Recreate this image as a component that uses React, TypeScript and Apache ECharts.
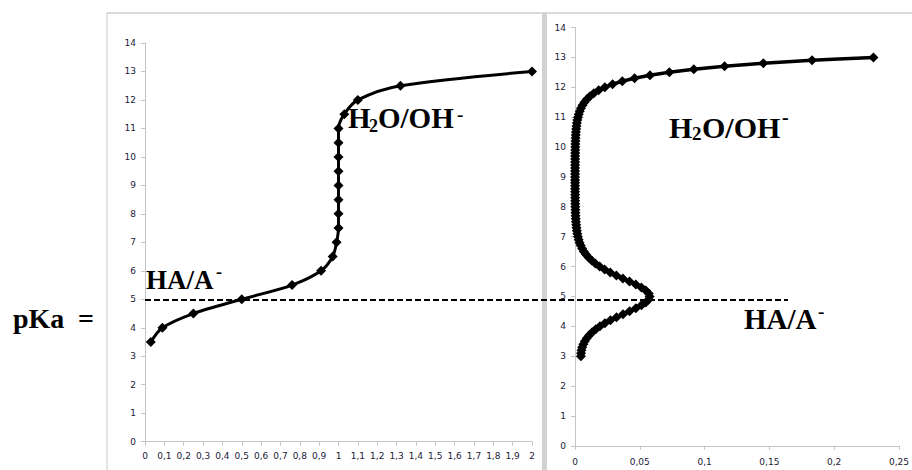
import React, { useEffect, useRef } from "react";
import * as echarts from "echarts";

// Left chart: titration curve (fraction titrated vs pH)
const leftX = [0.03, 0.09, 0.25, 0.5, 0.76, 0.91, 0.97, 0.99, 1.0, 1.0, 1.0, 1.0, 1.0, 1.0, 1.0, 1.0, 1.03, 1.1, 1.32, 2.0];
const leftPh = [3.5, 4, 4.5, 5, 5.5, 6, 6.5, 7, 7.5, 8, 8.5, 9, 9.5, 10, 10.5, 11, 11.5, 12, 12.5, 13];

// Right chart: buffer capacity vs pH
const rightPh = [
  3.0, 3.1, 3.2, 3.3, 3.4, 3.5, 3.6, 3.7, 3.8, 3.9,
  4.0, 4.1, 4.2, 4.3, 4.4, 4.5, 4.6, 4.7, 4.8, 4.9,
  5.0, 5.1, 5.2, 5.3, 5.4, 5.5, 5.6, 5.7, 5.8, 5.9,
  6.0, 6.1, 6.2, 6.3, 6.4, 6.5, 6.6, 6.7, 6.8, 6.9,
  7.0, 7.1, 7.2, 7.3, 7.4, 7.5, 7.6, 7.7, 7.8, 7.9,
  8.0, 8.1, 8.2, 8.3, 8.4, 8.5, 8.6, 8.7, 8.8, 8.9,
  9.0, 9.1, 9.2, 9.3, 9.4, 9.5, 9.6, 9.7, 9.8, 9.9,
  10.0, 10.1, 10.2, 10.3, 10.4, 10.5, 10.6, 10.7, 10.8, 10.9,
  11.0, 11.1, 11.2, 11.3, 11.4, 11.5, 11.6, 11.7, 11.8, 11.9,
  12.0, 12.1, 12.2, 12.3, 12.4, 12.5, 12.6, 12.7, 12.8, 12.9,
  13.0,
];
const rightBeta = [
  0.00456, 0.00466, 0.00499, 0.00557, 0.00642, 0.00757, 0.00906, 0.01093, 0.01322, 0.01599,
  0.01926, 0.02305, 0.02734, 0.03205, 0.03705, 0.04211, 0.04696, 0.05127, 0.05466, 0.05685,
  0.0576, 0.05684, 0.05464, 0.05123, 0.04691, 0.04204, 0.03696, 0.03194, 0.0272, 0.02287,
  0.01903, 0.0157, 0.01286, 0.01047, 0.00848, 0.00684, 0.00551, 0.00442, 0.00354, 0.00283,
  0.00226, 0.0018, 0.00144, 0.00114, 0.00091, 0.00072, 0.00058, 0.00046, 0.00036, 0.00029,
  0.00023, 0.00019, 0.00015, 0.00012, 0.0001, 0.00008, 0.00007, 0.00006, 0.00005, 0.00005,
  0.00005, 0.00005, 0.00005, 0.00006, 0.00007, 0.00008, 0.0001, 0.00012, 0.00015, 0.00019,
  0.00023, 0.00029, 0.00037, 0.00046, 0.00058, 0.00073, 0.00092, 0.00115, 0.00145, 0.00183,
  0.0023, 0.0029, 0.00365, 0.0046, 0.00579, 0.00728, 0.00917, 0.01154, 0.01453, 0.01829,
  0.02303, 0.02899, 0.0365, 0.04595, 0.05785, 0.07283, 0.09168, 0.11542, 0.14531, 0.18293,
  0.2303,
];

const pKaValue = 5;

const AXIS_GRAY = "#c4c4c4";
const LABEL_COLOR = "#1a1a36";
const SERIF = "'Liberation Serif', 'Times New Roman', serif";

const fmt = (decimals: number) => (v: number) =>
  String(Math.round(v * Math.pow(10, decimals)) / Math.pow(10, decimals)).replace(".", ",");

const axisCommon = {
  axisLine: { show: true, onZero: false, lineStyle: { color: AXIS_GRAY, width: 1 } },
  axisTick: { show: true, inside: false, length: 4, lineStyle: { color: AXIS_GRAY, width: 1 } },
  splitLine: { show: false },
};

const labelStyle = {
  color: LABEL_COLOR,
  fontFamily: "'DejaVu Sans', Verdana, sans-serif",
  fontSize: 9,
};

export default function App() {
  const ref = useRef<HTMLDivElement>(null);

  useEffect(() => {
    if (!ref.current) return;
    const chart = echarts.init(ref.current, undefined, { renderer: "svg" });

    const leftData = leftX.map((x, i) => [x, leftPh[i]]);
    const rightData = rightBeta.map((b, i) => [b, rightPh[i]]);

    // y is the vertical middle of the text's em box
    const boldText = (text: string, x: number, y: number, size: number) => ({
      type: "text",
      x,
      y,
      silent: true,
      style: {
        text,
        fill: "#000",
        font: `bold ${size}px ${SERIF}`,
        verticalAlign: "middle",
        align: "left",
      },
    });

    const option = {
      animation: false,
      backgroundColor: "#ffffff",
      grid: [
        { left: 145, top: 43, width: 387, height: 398.7 },
        { left: 575, top: 27.5, width: 325, height: 418.3 },
      ],
      xAxis: [
        {
          type: "value",
          gridIndex: 0,
          min: 0,
          max: 2,
          interval: 0.1,
          ...axisCommon,
          axisLabel: { ...labelStyle, margin: 10, interval: 0, hideOverlap: false, formatter: fmt(1) },
        },
        {
          type: "value",
          gridIndex: 1,
          min: 0,
          max: 0.25,
          interval: 0.05,
          ...axisCommon,
          axisLabel: { ...labelStyle, margin: 12, formatter: fmt(2) },
        },
      ],
      yAxis: [
        {
          type: "value",
          gridIndex: 0,
          min: 0,
          max: 14,
          interval: 1,
          ...axisCommon,
          axisLabel: { ...labelStyle, margin: 9 },
        },
        {
          type: "value",
          gridIndex: 1,
          min: 0,
          max: 14,
          interval: 1,
          ...axisCommon,
          axisLabel: { ...labelStyle, margin: 9 },
        },
      ],
      series: [
        {
          type: "line",
          xAxisIndex: 0,
          yAxisIndex: 0,
          data: leftData,
          smooth: 0.3,
          symbol: "diamond",
          symbolSize: 10,
          lineStyle: { color: "#000", width: 3 },
          itemStyle: { color: "#000" },
          markLine: {
            silent: true,
            symbol: "none",
            label: { show: false },
            lineStyle: { color: "#000", width: 2, type: [6, 3] },
            data: [
              [
                { coord: [0, pKaValue] },
                { x: 788, yAxis: pKaValue },
              ],
            ],
          },
        },
        {
          type: "line",
          xAxisIndex: 1,
          yAxisIndex: 1,
          data: rightData,
          smooth: 0.3,
          symbol: "diamond",
          symbolSize: 10,
          lineStyle: { color: "#000", width: 3.5 },
          itemStyle: { color: "#000" },
        },
      ],
      graphic: [
        // frames of the two chart panels
        { type: "line", silent: true, shape: { x1: 107, y1: 13, x2: 107, y2: 470 }, style: { stroke: "#c8c8c8", lineWidth: 1 } },
        { type: "line", silent: true, shape: { x1: 107, y1: 13, x2: 912, y2: 13 }, style: { stroke: "#b4b4b4", lineWidth: 1 } },
        { type: "rect", silent: true, shape: { x: 542, y: 13, width: 5, height: 457 }, style: { fill: "#d2d2d2" } },
        // pKa =
        boldText("pKa", 13, 318.5, 28),
        boldText("=", 78, 318.5, 28),
        // left HA/A-
        boldText("HA/A", 146, 280, 27),
        boldText("-", 216, 271.5, 18),
        // left H2O/OH-
        boldText("H", 348, 118, 29),
        boldText("2", 369, 126, 18),
        boldText("O/OH", 378, 118, 29),
        boldText("-", 457, 114.5, 19),
        // right H2O/OH-
        boldText("H", 669, 127, 30),
        boldText("2", 692, 133, 19),
        boldText("O/OH", 702, 127, 30),
        boldText("-", 782, 116.5, 20),
        // right HA/A-
        boldText("HA/A", 744, 319, 29),
        boldText("-", 818, 311.5, 19),
      ],
    };

    chart.setOption(option as any);
    return () => chart.dispose();
  }, []);

  return (
    <div
      ref={ref}
      style={{ position: "fixed", left: 0, top: 0, width: 912, height: 470, background: "#fff" }}
    />
  );
}
